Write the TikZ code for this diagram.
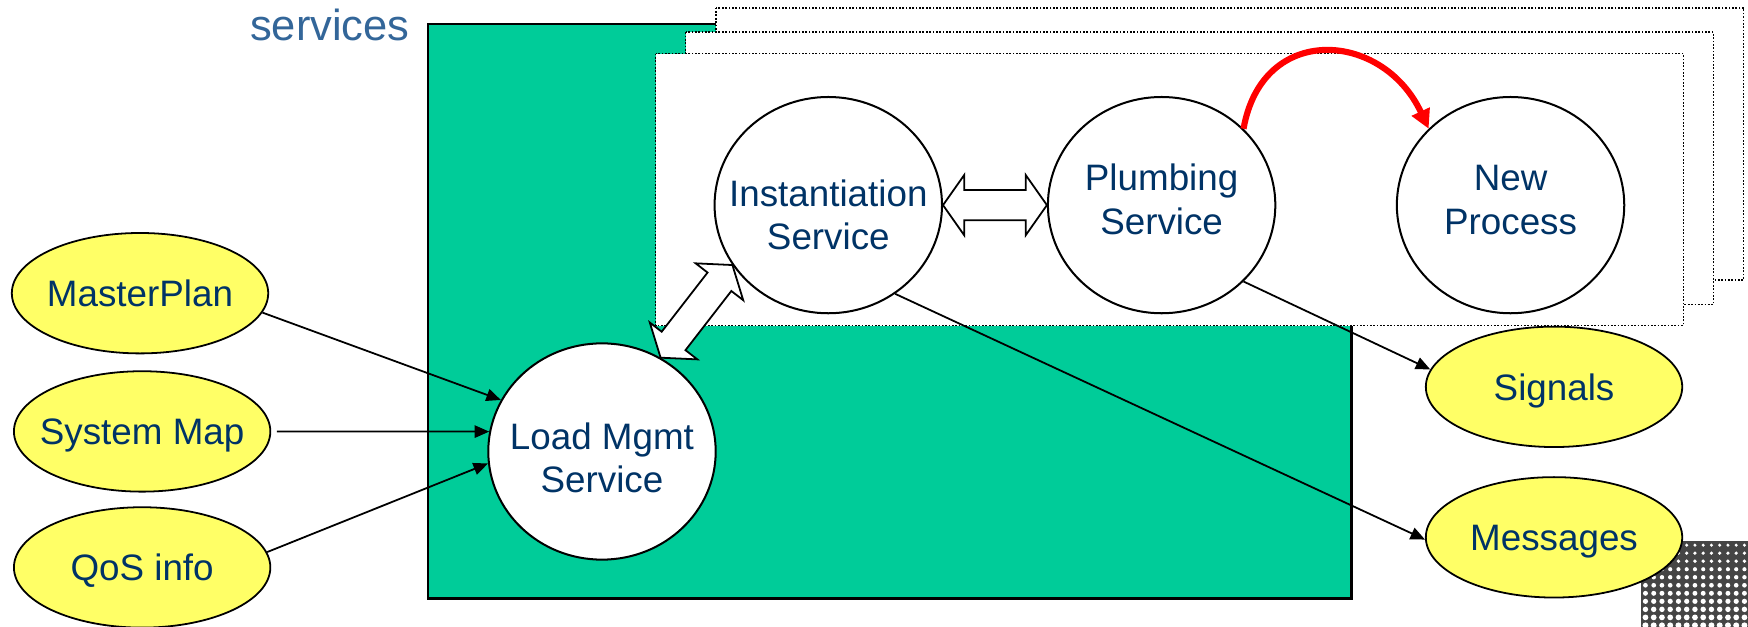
\documentclass[tikz,border=0pt]{standalone}
\usepackage{fontspec}
\setmainfont{Liberation Sans}
\usetikzlibrary{arrows.meta,calc,shapes.geometric}
\definecolor{boxGreen}{HTML}{00CC99}
\definecolor{noteYellow}{HTML}{FFFF66}
\definecolor{labelBlue}{HTML}{003366}
\definecolor{titleBlue}{HTML}{336699}
\definecolor{logoGrey}{HTML}{454545}
\newcommand{\labelSize}{\fontsize{33}{39}\selectfont}
\newcommand{\titleSize}{\fontsize{39}{45}\selectfont}
\newcommand{\oneLine}[1]{\smash{\makebox[0pt]{\raisebox{-.36em}{#1}}}}
\newcommand{\twoLines}[3][12pt]{\smash{\makebox[0pt]{\raisebox{-#1}{\begin{tabular}{@{}c@{}}#2\\#3\end{tabular}}}}}
\newcommand{\pipeHead}{19pt}
\newcommand{\pipeWide}{27pt}
\newcommand{\pipeNarrow}{13.5pt}
\newcommand{\pipeArrow}[2]{%
  \coordinate (pa) at (#1);
  \coordinate (pb) at (#2);
  \coordinate (ha) at ($(pa)!\pipeHead!(pb)$);
  \coordinate (hb) at ($(pb)!\pipeHead!(pa)$);
  \draw[pipe] (pa) -- ($(ha)!\pipeWide!90:(pb)$) -- ($(ha)!\pipeNarrow!90:(pb)$)
     -- ($(hb)!\pipeNarrow!-90:(pa)$) -- ($(hb)!\pipeWide!-90:(pa)$) -- (pb)
     -- ($(hb)!\pipeWide!90:(pa)$) -- ($(hb)!\pipeNarrow!90:(pa)$)
     -- ($(ha)!\pipeNarrow!-90:(pb)$) -- ($(ha)!\pipeWide!-90:(pb)$) -- cycle;}

\begin{document}
\begin{tikzpicture}[x=1pt, y=-1pt,
    every node/.style={font=\labelSize, text=labelBlue},
    service/.style={ellipse, draw, fill=white, line width=1.8pt, inner sep=0pt, minimum width=204pt, minimum height=194pt},
    input/.style={ellipse, draw, fill=noteYellow, line width=1.6pt, inner sep=0pt, minimum width=230pt, minimum height=108pt},
    feed/.style={-{Triangle[length=13pt,width=11pt]}, line width=1.6pt},
    frame/.style={draw, fill=white, line width=1.5pt, dash pattern=on 1.5pt off 1.5pt},
    pipe/.style={draw, fill=white, line width=1.6pt, line join=miter}]

\useasboundingbox (0,0) rectangle (1568,562);

% green area and the stacked process frames
\fill[boxGreen, draw=black, line width=2.5pt] (384,21.5) rectangle (1212,537);
\draw[frame] (642,7) rectangle (1564,251);
\draw[frame] (615,29) rectangle (1537,273);
\draw[frame] (588,48) rectangle (1510,292);

\node[anchor=base east, font=\titleSize, text=titleBlue] (title) at (371,36.5) {services};

% logo corner
\fill[logoGrey] (1472,485) rectangle (1568,562);
\foreach \i in {0,...,12}
  \foreach \j in {0,...,10}
    \fill[white] (1476+7.4*\i, 489+7.2*\j) circle ({1.5+0.12*\j});

\node[input] (master) at (125.6,263) {\oneLine{MasterPlan}};
\node[input] (sysmap) at (127.5,387) {\oneLine{System Map}};
\node[input] (qos) at (127.5,509) {\oneLine{QoS info}};
\node[service] (load) at (540,405) {\twoLines[16pt]{Load Mgmt}{Service}};
\node[service] (inst) at (743,184) {\twoLines[19pt]{Instantiation}{Service}};
\node[service] (plumb) at (1042,184) {\twoLines[5pt]{Plumbing}{Service}};
\node[service] (newp) at (1355,184) {\twoLines[5pt]{New}{Process}};
\node[input] (sig) at (1394,347) {\oneLine{Signals}};
\node[input] (msgs) at (1394,482) {\oneLine{Messages}};

\draw[feed] (master.-9) -- (load.153);
\draw[feed, shorten <=5pt] (sysmap.east) -- (load.170);
\draw[feed] (qos.7) -- (load.186);
\draw[feed] (inst.-53) -- (msgs.181);
\draw[feed] (plumb.-43) -- (sig.172);

\pipeArrow{load.58}{inst.212}
\pipeArrow{inst.east}{plumb.west}

\draw[red, line width=5.5pt, -{Triangle[length=17pt,width=17pt]}] (plumb.43) to[out=80, in=115, looseness=1.5] (newp.137);

\end{tikzpicture}
\end{document}
